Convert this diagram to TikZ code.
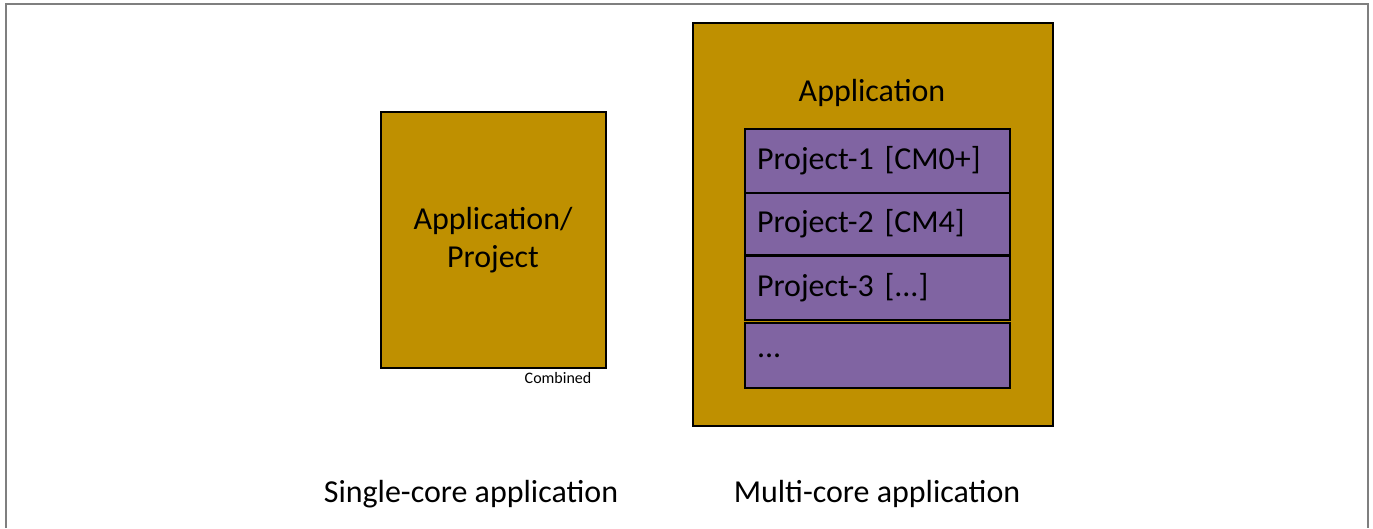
\documentclass[tikz,border=0pt]{standalone}
\usepackage{fontspec}
\setmainfont{Carlito}
\usepackage{xcolor}
\usepackage{tikz}

\definecolor{appgold}{HTML}{BF9000}
\definecolor{projpurple}{HTML}{8064A2}
\definecolor{framegray}{HTML}{7F7F7F}

\begin{document}
\begin{tikzpicture}[x=0.02cm, y=-0.02cm,
    appbox/.style={draw=black, line width=1.1pt, fill=appgold, inner sep=0pt},
    projbox/.style={draw=black, line width=1.1pt, fill=projpurple, text width=4.82cm,
        inner xsep=0.24cm, inner ysep=0pt, align=left, font=\fontsize{18.2}{21}\selectfont},
    bigtext/.style={font=\fontsize{18.2}{21.5}\selectfont, align=center}]
    \useasboundingbox (0,0) rectangle (1373,528);
    % Outer frame, open at the bottom
    \draw[framegray, line width=1.1pt] (6,528) -- (6,4) -- (1368,4) -- (1368,528);

    % Single-core: one box
    \node[appbox, minimum width=4.5cm, minimum height=5.12cm] (single) at (493.5,240) {};
    \node[bigtext] (singletext) at (493,240) {Application/\\Project};
    \node[font=\fontsize{9.1}{10}\selectfont] (combined) at (558,378) {Combined};

    % Multi-core: application holding the projects
    \node[appbox, minimum width=7.2cm, minimum height=8.06cm] (multi) at (873,224.5) {};
    \node[bigtext] (multitext) at (872,93) {Application};
    \foreach \name/\y/\h/\txt in {proja/161/1.28/{Project-1 [CM0+]},
                                 projb/224/1.24/{Project-2 [CM4]},
                                 projc/288/1.28/{Project-3 [...]},
                                 projd/355.5/1.30/{...}} {
        \node[projbox, minimum height=\h cm] (\name) at (877.5,\y) {\txt};
    }

    % Captions below
    \node[bigtext] (singlecap) at (471,494) {Single-core application};
    \node[bigtext] (multicap) at (877,494) {Multi-core application};
\end{tikzpicture}
\end{document}
